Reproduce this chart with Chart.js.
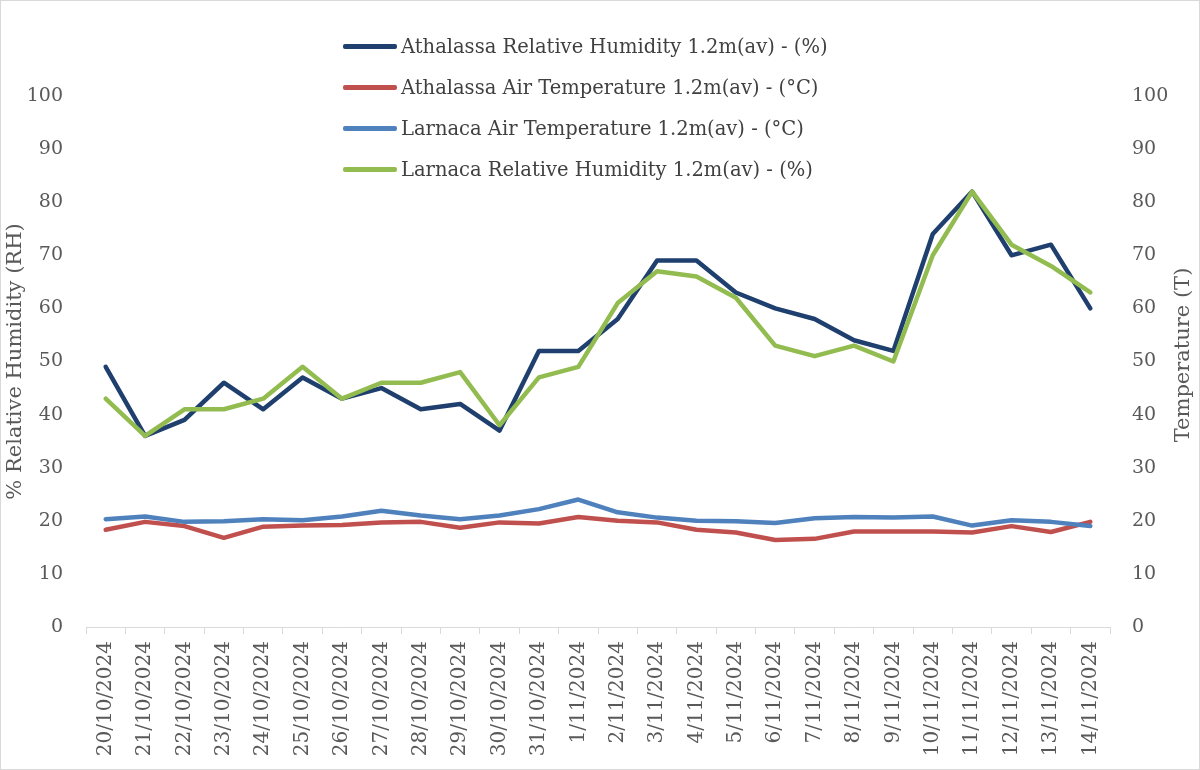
<!DOCTYPE html>
<html>
<head>
<meta charset="utf-8">
<script src="https://cdn.jsdelivr.net/npm/chart.js@4.4.1/dist/chart.umd.min.js"></script>
<style>
  html, body { margin: 0; padding: 0; background: #fff; }
  #wrap { position: relative; width: 1200px; height: 770px; }
  #legend { position: absolute; left: 343px; top: 26px; font-family: 'DejaVu Serif', serif; font-size: 19.5px; color: #404040; }
  .item { display: flex; align-items: center; height: 41px; white-space: nowrap; }
  .swatch { width: 54px; height: 4.5px; border-radius: 2px; margin-right: 4px; }
</style>
</head>
<body>
<div id="wrap">
  <canvas id="myChart" width="1200" height="770"></canvas>
  <div id="legend"></div>
</div>
<script>
const dates = ['20/10/2024','21/10/2024','22/10/2024','23/10/2024','24/10/2024','25/10/2024',
  '26/10/2024','27/10/2024','28/10/2024','29/10/2024','30/10/2024','31/10/2024',
  '1/11/2024','2/11/2024','3/11/2024','4/11/2024','5/11/2024','6/11/2024','7/11/2024',
  '8/11/2024','9/11/2024','10/11/2024','11/11/2024','12/11/2024','13/11/2024','14/11/2024']
const athalassa_RH = [49,36,39,46,41,47,43,45,41,42,37,52,52,58,69,69,63,60,58,54,52,74,82,70,72,60]
const athalassa_T = [18.3,19.8,19.0,16.8,18.9,19.1,19.2,19.7,19.8,18.7,19.7,19.5,20.7,20.0,19.7,18.3,17.8,16.4,16.6,18.0,18.0,18.0,17.8,19.0,17.9,19.8]
const larnaca_T = [20.3,20.8,19.8,19.9,20.3,20.1,20.8,21.9,21.0,20.3,21.0,22.2,24.0,21.6,20.6,20.0,19.9,19.6,20.5,20.7,20.6,20.8,19.1,20.1,19.8,19.0]
const larnaca_RH = [43,36,41,41,43,49,43,46,46,48,38,47,49,61,67,66,62,53,51,53,50,70,82,72,68,63]
const y_ticks = [0,10,20,30,40,50,60,70,80,90,100]

const fontFam = "'DejaVu Serif', serif"
const txtColor = '#595959'
const ctx = document.getElementById('myChart')

// frame + right axis title (Excel writes it bottom-to-top)
const extras = {
  id: 'extras',
  beforeDraw(chart){
    const c = chart.ctx
    c.save()
    c.fillStyle = '#fff'
    c.fillRect(0, 0, chart.width, chart.height)
    c.strokeStyle = '#d9d9d9'
    c.lineWidth = 1
    c.strokeRect(0.5, 0.5, chart.width - 1, chart.height - 1)
    c.restore()
  },
  afterDraw(chart){
    const c = chart.ctx
    c.save()
    c.translate(1184, 355)
    c.rotate(-Math.PI / 2)
    c.font = "21px " + fontFam
    c.fillStyle = txtColor
    c.textAlign = 'center'
    c.textBaseline = 'middle'
    c.fillText('Temperature (T)', 0, 0)
    c.restore()
  }
}

function yAxis(pos, title){
  return {
    position: pos,
    min: 0,
    max: 100,
    afterBuildTicks(s){ s.ticks = y_ticks.map(v => ({value: v})) },
    grid: { display: false },
    border: { display: false },
    ticks: { color: txtColor, font: { family: fontFam, size: 19 }, padding: pos === 'left' ? 15 : 14 },
    title: { display: !!title, text: title, color: txtColor, font: { family: fontFam, size: 21 }, padding: { top: 3 } },
    afterFit(s){ s.width = pos === 'left' ? 86 : 90 }
  }
}

const chart = new Chart(ctx, {
  type: 'line',
  data: {
    labels: dates,
    datasets: [
      { label: 'Athalassa Relative Humidity 1.2m(av) - (%)', data: athalassa_RH, borderColor: '#1f3f6e', yAxisID: 'y', order: 4 },
      { label: 'Athalassa Air Temperature 1.2m(av) - (°C)', data: athalassa_T, borderColor: '#c0504d', yAxisID: 'y1', order: 3 },
      { label: 'Larnaca Air Temperature 1.2m(av) - (°C)', data: larnaca_T, borderColor: '#4f81bd', yAxisID: 'y1', order: 2 },
      { label: 'Larnaca Relative Humidity 1.2m(av) - (%)', data: larnaca_RH, borderColor: '#92bc4f', yAxisID: 'y', order: 1 }
    ]
  },
  options: {
    responsive: false,
    animation: false,
    layout: { padding: { top: 96, bottom: 8, left: 0, right: 0 } },
    elements: {
      point: { radius: 0 },
      line: { borderWidth: 4.5, tension: 0, borderJoinStyle: 'round', borderCapStyle: 'round', fill: false }
    },
    plugins: { legend: { display: false }, tooltip: { enabled: false } },
    scales: {
      x: {
        offset: true,
        grid: { offset: true, drawOnChartArea: false, tickLength: 7, color: '#d9d9d9' },
        border: { color: '#d9d9d9' },
        ticks: { minRotation: 90, maxRotation: 90, autoSkip: false, color: txtColor, font: { family: fontFam, size: 20 }, padding: 7 },
        afterFit(s){ s.height = 135 }
      },
      y: yAxis('left', '% Relative Humidity (RH)'),
      y1: yAxis('right', '')
    }
  },
  plugins: [extras]
})

// html legend built from the datasets
const legend = document.getElementById('legend')
chart.data.datasets.forEach(ds => {
  const row = document.createElement('div')
  row.className = 'item'
  const sw = document.createElement('span')
  sw.className = 'swatch'
  sw.style.background = ds.borderColor
  const tx = document.createElement('span')
  tx.textContent = ds.label
  row.appendChild(sw)
  row.appendChild(tx)
  legend.appendChild(row)
})
</script>
</body>
</html>
